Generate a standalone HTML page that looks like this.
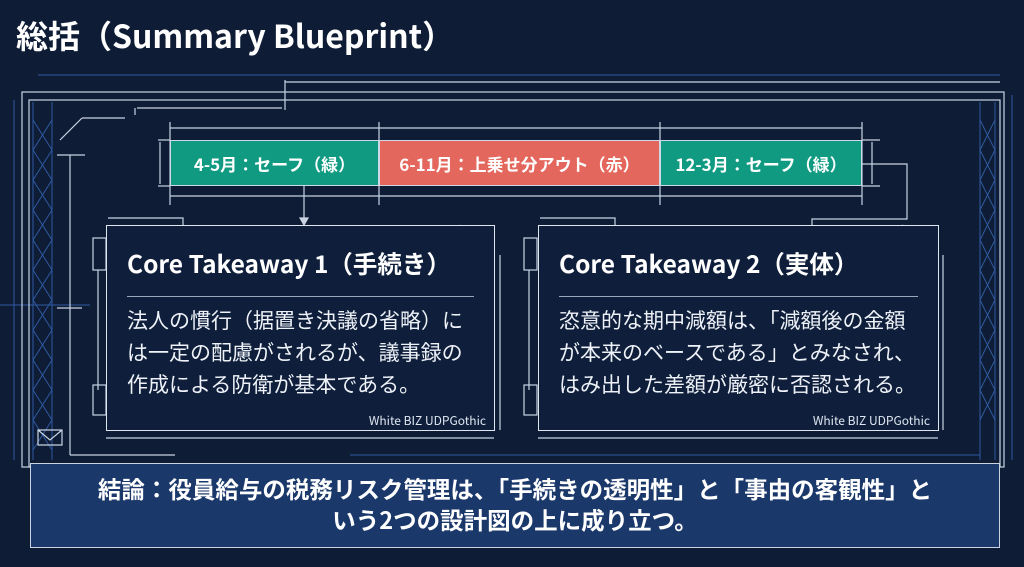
<!DOCTYPE html>
<html><head><meta charset="utf-8"><style>
body{margin:0;width:1024px;height:567px;overflow:hidden;background:#0e1c36;font-family:"Noto Sans CJK JP","Liberation Sans",sans-serif;position:relative}
.t{position:absolute;color:#fff;white-space:nowrap;line-height:1.2}
.bar{position:absolute;top:140px;height:46px;color:#fff;font-weight:bold;font-size:17px;display:flex;align-items:center;justify-content:center;border:1px solid #cfd8e6;box-sizing:border-box}
.box{position:absolute;border:1.5px solid #dfe6f0;box-sizing:border-box;background:#0f1f3b}
.box h2{margin:0;position:absolute;left:20px;top:20px;font-size:24.5px;line-height:36px;color:#fff;font-weight:bold;white-space:nowrap}
.box .hr{position:absolute;left:20px;right:20px;top:70px;border-top:1px solid #9aa8bd}
.box p{margin:0;position:absolute;left:20px;top:78px;font-size:21px;line-height:32px;color:#eef2f8;white-space:nowrap}
.box .f{position:absolute;right:8px;bottom:1px;font-size:12px;color:#dfe6f0}
</style></head><body>
<svg width="1024" height="567" style="position:absolute;left:0;top:0" fill="none">
<g stroke="#2f5aa0" stroke-width="1">
<line x1="38" y1="75" x2="1000" y2="75"/><line x1="14" y1="100" x2="14" y2="460"/>
<line x1="33" y1="102" x2="33" y2="460"/><line x1="52" y1="102" x2="52" y2="460"/>
<path d="M33 120 L52 150 L33 180 L52 210 L33 240 L52 270 L33 300 L52 330 L33 360 L52 390 L33 420 L52 450"/>
<path d="M52 120 L33 150 L52 180 L33 210 L52 240 L33 270 L52 300 L33 330 L52 360 L33 390 L52 420 L33 450"/>
<line x1="980" y1="102" x2="980" y2="460"/><line x1="995" y1="102" x2="995" y2="460"/><line x1="1012" y1="95" x2="1012" y2="460"/>
<path d="M980 120 L995 150 L980 180 L995 210 L980 240 L995 270 L980 300 L995 330 L980 360 L995 390 L980 420"/>
<path d="M995 120 L980 150 L995 180 L980 210 L995 240 L980 270 L995 300 L980 330 L995 360 L980 390 L995 420"/>
<line x1="0" y1="305" x2="90" y2="305"/><line x1="350" y1="455" x2="980" y2="455"/>
</g>
<g stroke="#c9d3e2" stroke-width="1.2">
<rect x="22" y="92" width="982" height="375"/><rect x="29" y="100" width="971" height="367"/>
<line x1="285" y1="82" x2="1000" y2="82"/><line x1="285" y1="80" x2="285" y2="110"/>
<line x1="135" y1="108" x2="135" y2="115"/><line x1="137" y1="108" x2="282" y2="108"/>
<line x1="60" y1="140" x2="82" y2="118"/><line x1="82" y1="118" x2="125" y2="118"/>
<line x1="70" y1="155" x2="70" y2="455"/><line x1="57" y1="155" x2="85" y2="155"/><line x1="57" y1="308" x2="82" y2="308"/>
<line x1="170" y1="128" x2="379" y2="128"/><line x1="379" y1="128" x2="660" y2="128"/><line x1="660" y1="128" x2="862" y2="128"/>
<line x1="170" y1="196" x2="379" y2="196"/><line x1="379" y1="196" x2="660" y2="196"/><line x1="660" y1="196" x2="862" y2="196"/>
<line x1="170" y1="122" x2="170" y2="205"/><line x1="379" y1="122" x2="379" y2="205"/><line x1="660" y1="122" x2="660" y2="205"/><line x1="862" y1="122" x2="862" y2="205"/>
<line x1="158" y1="140" x2="170" y2="140"/><line x1="158" y1="186" x2="170" y2="186"/><line x1="160" y1="142" x2="160" y2="184"/>
<line x1="862" y1="140" x2="880" y2="140"/><line x1="862" y1="186" x2="880" y2="186"/><line x1="872" y1="142" x2="872" y2="184"/>
<polyline points="862,164 907,164 907,219 812,219 812,225"/>
<line x1="304" y1="186" x2="304" y2="222"/><path d="M300 218 L304 225 L308 218 Z" fill="#c9d3e2"/>
<polyline points="108,218 183,218 183,225"/><polyline points="540,218 615,218 615,225"/>
<line x1="106" y1="438" x2="494" y2="438"/><line x1="538" y1="438" x2="938" y2="438"/>
<line x1="500" y1="255" x2="500" y2="430"/><line x1="943" y1="255" x2="943" y2="430"/>
<line x1="98" y1="270" x2="98" y2="390"/><line x1="529" y1="270" x2="529" y2="390"/>
<rect x="93" y="238" width="13" height="32"/><rect x="93" y="385" width="13" height="30"/><rect x="524" y="238" width="13" height="32"/><rect x="524" y="385" width="13" height="30"/>
<path d="M38 430 L62 430 L62 445 L38 445 Z M38 430 L50 440 L62 430"/>
<line x1="460" y1="225" x2="494" y2="258"/><line x1="902" y1="225" x2="938" y2="258"/>
<line x1="70" y1="455" x2="175" y2="455"/>
</g>
</svg>
<div class="t" style="left:16px;top:16px;font-size:32px;font-weight:bold">総括（Summary Blueprint）</div>
<div class="bar" style="left:170px;width:209px;background:#109a82">4-5月：セーフ（緑）</div>
<div class="bar" style="left:379px;width:281px;background:#e3675c">6-11月：上乗せ分アウト（赤）</div>
<div class="bar" style="left:660px;width:202px;background:#109a82">12-3月：セーフ（緑）</div>
<div class="box" style="left:106px;top:225px;width:389px;height:206px">
<h2>Core Takeaway 1（手続き）</h2><div class="hr"></div>
<p>法人の慣行（据置き決議の省略）に<br>は一定の配慮がされるが、議事録の<br>作成による防衛が基本である。</p>
<div class="f">White BIZ UDPGothic</div></div>
<div class="box" style="left:538px;top:225px;width:401px;height:206px">
<h2>Core Takeaway 2（実体）</h2><div class="hr"></div>
<p>恣意的な期中減額は、「減額後の金額<br>が本来のベースである」とみなされ、<br>はみ出した差額が厳密に否認される。</p>
<div class="f">White BIZ UDPGothic</div></div>
<div style="position:absolute;left:30px;top:463px;width:970px;height:85px;background:#1b386b;border:1.5px solid #c9d3e2;box-sizing:border-box;color:#fff;font-weight:bold;font-size:23.5px;line-height:31px;text-align:center;padding-top:9px">結論：役員給与の税務リスク管理は、「手続きの透明性」と「事由の客観性」と<br>いう2つの設計図の上に成り立つ。</div>
</body></html>
